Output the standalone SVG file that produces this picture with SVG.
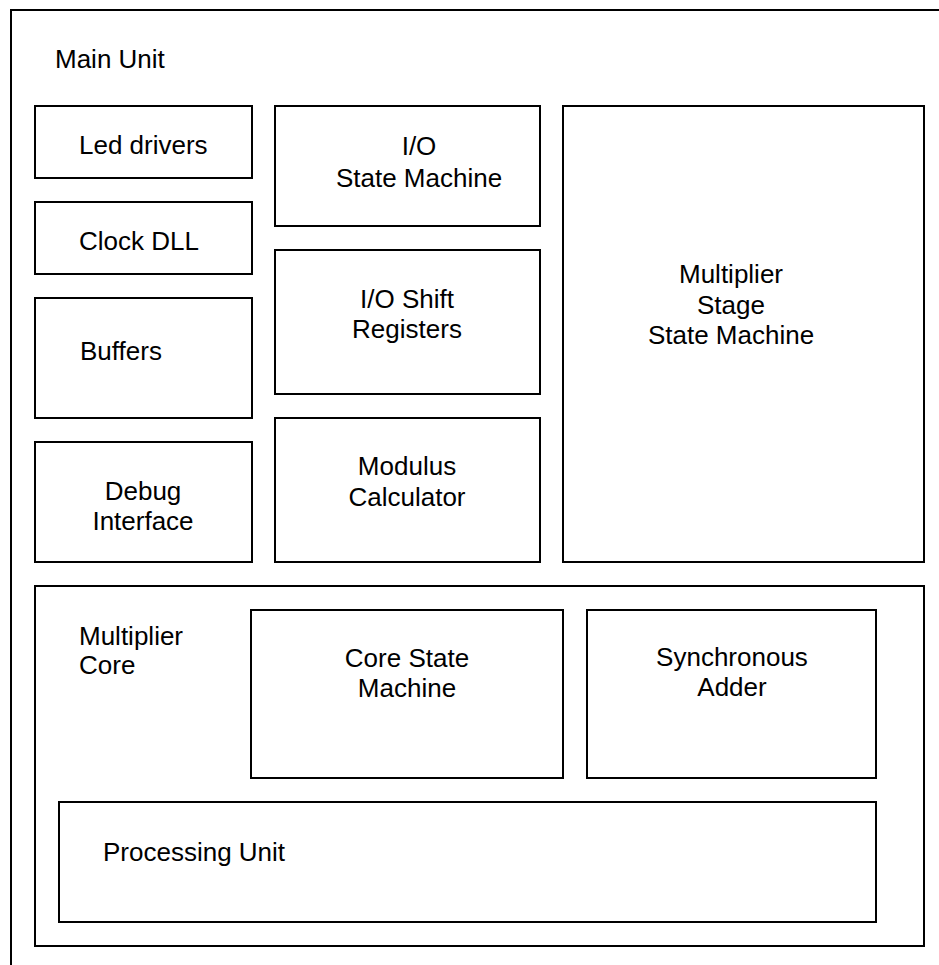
<svg xmlns="http://www.w3.org/2000/svg" width="939" height="965" viewBox="0 0 939 965">
<style>
rect{fill:none;stroke:#000;stroke-width:2}
text{font-family:"Liberation Sans",Arial,sans-serif;font-size:26px;fill:#000}
.c{text-anchor:middle}
</style>
<rect x="0" y="0" width="939" height="965" style="fill:#fff;stroke:none"/>
<g id="main-unit"><rect x="11" y="10" width="1000" height="1000"/><text x="55" y="68">Main Unit</text></g>
<g id="led-drivers"><rect x="35" y="106" width="217" height="72"/><text x="79" y="154">Led drivers</text></g>
<g id="clock-dll"><rect x="35" y="202" width="217" height="72"/><text x="79" y="250">Clock DLL</text></g>
<g id="buffers"><rect x="35" y="298" width="217" height="120"/><text x="80" y="360">Buffers</text></g>
<g id="debug-interface"><rect x="35" y="442" width="217" height="120"/><text class="c" x="143" y="500">Debug</text><text class="c" x="143" y="530">Interface</text></g>
<g id="io-state-machine"><rect x="275" y="106" width="265" height="120"/><text class="c" x="419" y="155">I/O</text><text class="c" x="419" y="187">State Machine</text></g>
<g id="io-shift-registers"><rect x="275" y="250" width="265" height="144"/><text class="c" x="407" y="308">I/O Shift</text><text class="c" x="407" y="338">Registers</text></g>
<g id="modulus-calculator"><rect x="275" y="418" width="265" height="144"/><text class="c" x="407" y="475">Modulus</text><text class="c" x="407" y="506">Calculator</text></g>
<g id="multiplier-stage"><rect x="563" y="106" width="361" height="456"/><text class="c" x="731" y="283">Multiplier</text><text class="c" x="731" y="314">Stage</text><text class="c" x="731" y="344">State Machine</text></g>
<g id="multiplier-core"><rect x="35" y="586" width="889" height="360"/><text x="79" y="645">Multiplier</text><text x="79" y="674">Core</text></g>
<g id="core-state-machine"><rect x="251" y="610" width="312" height="168"/><text class="c" x="407" y="667">Core State</text><text class="c" x="407" y="697">Machine</text></g>
<g id="synchronous-adder"><rect x="587" y="610" width="289" height="168"/><text class="c" x="732" y="666">Synchronous</text><text class="c" x="732" y="696">Adder</text></g>
<g id="processing-unit"><rect x="59" y="802" width="817" height="120"/><text x="103" y="861">Processing Unit</text></g>
<g id="connectors"></g>
</svg>
